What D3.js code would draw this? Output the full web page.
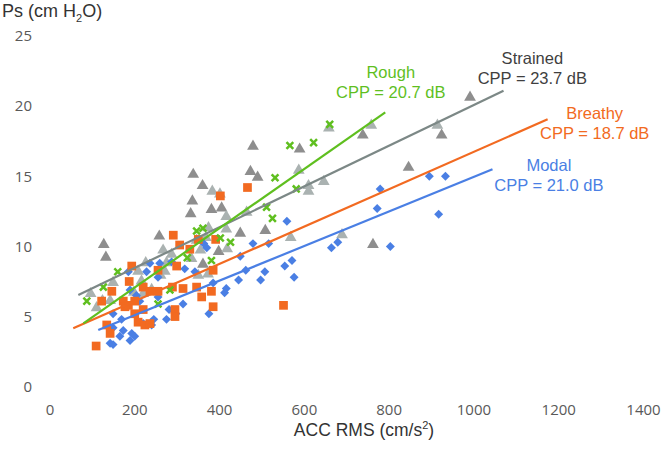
<!DOCTYPE html>
<html>
<head>
<meta charset="utf-8">
<script src="https://cdn.jsdelivr.net/npm/d3@7"></script>
<style>
  body { margin: 0; background: #fff; }
  svg text { font-family: "Liberation Sans", Arial, sans-serif; }
  .tick text { font-family: "Open Sans", sans-serif; font-size: 15px; fill: #595959; }
</style>
</head>
<body>
<svg id="vis" width="664" height="450"></svg>
<script>
// values: [ACC RMS, Ps]
const modal = [
  [780, 14.1], [560, 11.8], [773, 12.7], [896, 15.0], [934, 15.0], [918, 12.3],
  [804, 10.0], [665, 9.9], [680, 10.3], [480, 10.2], [517, 10.2], [450, 9.3],
  [463, 8.3], [508, 8.2], [498, 7.6], [555, 8.6], [572, 9.0], [577, 7.8],
  [446, 7.6], [417, 7.0], [413, 6.7], [386, 7.4], [376, 5.2], [364, 10.2],
  [319, 8.4], [343, 8.2], [371, 9.9], [186, 8.2], [229, 8.2], [237, 8.8],
  [256, 7.8], [260, 8.8], [288, 8.9], [190, 6.9], [205, 6.5], [213, 6.1],
  [256, 6.4], [150, 5.2], [170, 4.8], [174, 4.0], [150, 4.2], [166, 3.6],
  [194, 3.8], [201, 3.6], [190, 3.3], [143, 3.1], [150, 3.0], [221, 4.5],
  [241, 4.4], [246, 4.8], [276, 4.8], [282, 5.5], [298, 5.2], [315, 5.9]
];
const breathy = [
  [467, 14.2], [403, 13.6], [392, 10.5], [386, 8.3], [382, 6.8], [386, 5.7],
  [552, 5.8], [359, 6.4], [292, 10.8], [307, 10.1], [331, 9.8], [351, 10.5],
  [300, 8.6], [290, 7.1], [315, 7.0], [347, 7.1], [194, 8.6], [188, 7.5],
  [147, 6.8], [123, 6.1], [174, 6.1], [186, 5.8], [201, 6.1], [221, 7.1],
  [237, 6.8], [256, 8.3], [256, 6.8], [201, 5.2], [209, 4.6], [225, 4.4],
  [237, 4.5], [221, 5.5], [143, 3.8], [135, 4.4], [296, 5.5], [296, 5.0],
  [110, 2.9], [178, 5.7]
];
const strainedDark = [
  [480, 17.2], [590, 17.0], [739, 18.0], [925, 18.0], [474, 15.4], [491, 15.0],
  [847, 15.7], [763, 10.2], [361, 14.4], [382, 12.7], [406, 12.8], [450, 11.0],
  [509, 11.2], [399, 9.7], [362, 8.8], [339, 15.2], [337, 13.3], [333, 12.4],
  [128, 10.2], [133, 9.3], [259, 10.8], [992, 20.7]
];
const strainedLight = [
  [759, 18.7], [915, 18.7], [659, 18.5], [588, 15.5], [611, 14.4], [611, 14.0],
  [647, 14.7], [465, 12.5], [417, 12.2], [417, 11.3], [384, 14.0], [402, 13.8],
  [375, 11.4], [419, 9.9], [569, 10.7], [690, 10.9], [374, 8.1], [369, 10.7],
  [356, 9.8], [335, 9.2], [347, 10.5], [351, 8.0], [288, 9.5], [97, 6.7],
  [111, 5.7], [125, 6.2], [143, 6.2], [150, 7.5], [209, 8.3], [227, 8.9],
  [217, 7.6], [199, 6.8], [221, 6.7], [241, 7.0], [268, 9.8], [276, 8.9],
  [262, 8.0], [272, 8.3]
];
const rough = [
  [661, 18.7], [567, 17.2], [623, 17.4], [532, 14.9], [582, 14.1], [512, 12.8],
  [526, 12.0], [403, 10.6], [427, 10.3], [382, 9.0], [362, 11.3], [347, 11.1],
  [325, 9.2], [161, 8.2], [127, 7.1], [88, 6.1], [256, 5.9], [284, 6.9]
];

// regression lines: [[x1, y1], [x2, y2]], label = centre x / baseline y of first line
const fits = [
  {name: 'Strained', cpp: 'CPP = 23.7 dB', pts: [[68, 6.54], [1071, 21.1]], label: [1139, 23.0]},
  {name: 'Breathy', cpp: 'CPP = 18.7 dB', pts: [[56, 4.16], [1175, 19.06]], label: [1286, 19.1]},
  {name: 'Modal', cpp: 'CPP = 21.0 dB', pts: [[115, 4.04], [1045, 15.5]], label: [1178, 15.4]},
  {name: 'Rough', cpp: 'CPP = 20.7 dB', pts: [[80, 4.52], [792, 19.56]], label: [805, 22.0]}
];

const xTicks = [0, 200, 400, 600, 800, 1000, 1200, 1400];
const yTicks = [0, 5, 10, 15, 20, 25];

const color = {
  Modal: '#4a7fe4', Breathy: '#f26a21', Rough: '#5fbf1f',
  Strained: '#7c8886', dark: '#8e8e8e', light: '#aab2b1'
};
const textColor = {Modal: '#4a7fe4', Breathy: '#f26a21', Rough: '#5fbf1f', Strained: '#3f3f3f'};

const svg = d3.select('#vis');

const x = d3.scaleLinear().domain([0, 1400]).range([49.5, 643]);
const y = d3.scaleLinear().domain([0, 25]).range([386.7, 36]);

// axes without lines
svg.append('g')
    .attr('transform', 'translate(0,400)')
    .call(d3.axisBottom(x).tickValues(xTicks).tickFormat(d3.format('d')).tickSize(0).tickPadding(4))
    .call(g => g.select('.domain').remove());

svg.append('g')
    .attr('transform', 'translate(34,0)')
    .call(d3.axisLeft(y).tickValues(yTicks).tickSize(0).tickPadding(2))
    .call(g => g.select('.domain').remove());

// axis titles
const xt = svg.append('text')
    .attr('x', 364).attr('y', 436)
    .attr('text-anchor', 'middle')
    .attr('font-size', 17.5)
    .attr('fill', '#333');
xt.append('tspan').text('ACC RMS (cm/s');
xt.append('tspan').attr('font-size', 11).attr('dy', -7).text('2');
xt.append('tspan').attr('dy', 7).text(')');

const yt = svg.append('text')
    .attr('x', 2).attr('y', 17)
    .attr('font-size', 18)
    .attr('fill', '#333');
yt.append('tspan').text('Ps (cm H');
yt.append('tspan').attr('font-size', 11).attr('dy', 5).text('2');
yt.append('tspan').attr('dy', -5).text('O)');

const marks = svg.append('g');

marks.selectAll('.dark').data(strainedDark).enter().append('path')
    .attr('class', 'dark')
    .attr('d', d3.symbol(d3.symbolTriangle, 60))
    .attr('transform', d => `translate(${x(d[0])},${y(d[1]) + 1})`)
    .attr('fill', color.dark);

marks.selectAll('.light').data(strainedLight).enter().append('path')
    .attr('class', 'light')
    .attr('d', d3.symbol(d3.symbolTriangle, 60))
    .attr('transform', d => `translate(${x(d[0])},${y(d[1]) + 1})`)
    .attr('fill', color.light);

marks.selectAll('.modal').data(modal).enter().append('path')
    .attr('class', 'modal')
    .attr('d', d3.symbol(d3.symbolSquare, 40))
    .attr('transform', d => `translate(${x(d[0])},${y(d[1])}) rotate(45)`)
    .attr('fill', color.Modal);

marks.selectAll('.breathy').data(breathy).enter().append('path')
    .attr('class', 'breathy')
    .attr('d', d3.symbol(d3.symbolSquare, 76))
    .attr('transform', d => `translate(${x(d[0])},${y(d[1])})`)
    .attr('fill', color.Breathy);

marks.selectAll('.rough').data(rough).enter().append('path')
    .attr('class', 'rough')
    .attr('d', 'M-3.4,-3.4L3.4,3.4M-3.4,3.4L3.4,-3.4')
    .attr('transform', d => `translate(${x(d[0])},${y(d[1])})`)
    .attr('stroke', color.Rough)
    .attr('stroke-width', 2.5)
    .attr('fill', 'none');

// trend lines
const line = d3.line().x(d => x(d[0])).y(d => y(d[1]));
svg.append('g').selectAll('path').data(fits).enter().append('path')
    .attr('d', d => line(d.pts))
    .attr('stroke', d => color[d.name])
    .attr('stroke-width', 2.2)
    .attr('fill', 'none');

// labels
const lab = svg.append('g').selectAll('text').data(fits).enter().append('text')
    .attr('text-anchor', 'middle')
    .attr('font-size', 16.5)
    .attr('fill', d => textColor[d.name])
    .attr('transform', d => `translate(${x(d.label[0])},${y(d.label[1])})`);
lab.append('tspan').attr('x', 0).attr('y', 0).text(d => d.name);
lab.append('tspan').attr('x', 0).attr('y', 20).text(d => d.cpp);
</script>
</body>
</html>
